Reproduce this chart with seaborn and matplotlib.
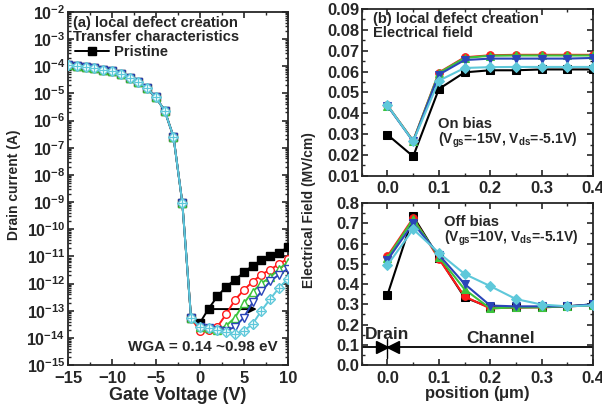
"""Transfer characteristics and electrical field for local defect creation."""

import matplotlib

matplotlib.use("Agg")
import matplotlib.pyplot as plt
import numpy as np
import pandas as pd
import seaborn as sns
from matplotlib.lines import Line2D
from matplotlib.ticker import FormatStrFormatter, LogLocator, MultipleLocator, NullFormatter

sns.set_theme(style="ticks")
plt.rcParams.update({
    "font.family": ["Liberation Sans", "DejaVu Sans"],
    "font.weight": "bold",
    "axes.labelweight": "bold",
    "mathtext.fontset": "custom",
    "mathtext.rm": "Liberation Sans:bold",
    "mathtext.it": "Liberation Sans:bold",
    "mathtext.bf": "Liberation Sans:bold",
    "mathtext.default": "rm",
    "xtick.direction": "in",
    "ytick.direction": "in",
    "xtick.top": True,
    "ytick.right": True,
    "axes.linewidth": 1.3,
    "xtick.major.width": 1.2,
    "ytick.major.width": 1.2,
    "xtick.minor.width": 1.0,
    "ytick.minor.width": 1.0,
    "xtick.major.size": 4,
    "ytick.major.size": 4,
    "xtick.minor.size": 2.5,
    "ytick.minor.size": 2.5,
    "xtick.labelsize": 12,
    "ytick.labelsize": 12,
})

# ---- (a) transfer characteristics --------------------------------------
gate_voltage = list(range(-15, 11))
# log10(I_d) shared by all curves from -15 V to -1 V
on_state_log = [-3.94, -3.98, -4.03, -4.07, -4.13, -4.19, -4.29, -4.42,
                -4.57, -4.82, -5.15, -5.64, -6.60, -9.02, -13.27]
# log10(I_d) from 0 V to 10 V for each case
off_black = [-13.45, -12.92, -12.47, -12.11, -11.86, -11.59, -11.34, -11.15, -10.97, -10.87, -10.66]
off_red = [-13.74, -13.72, -13.59, -13.12, -12.60, -12.24, -11.93, -11.67, -11.49, -11.28, -11.09]
off_green = [-13.60, -13.65, -13.70, -13.55, -13.25, -12.73, -12.30, -11.99, -11.77, -11.46, -11.22]
off_blue = [-13.60, -13.65, -13.70, -13.74, -13.59, -13.25, -12.69, -12.29, -11.92, -11.67, -11.46]
off_cyan = [-13.60, -13.65, -13.70, -13.79, -13.86, -13.74, -13.49, -13.00, -12.57, -12.16, -11.83]

# ---- (b) electrical field ----------------------------------------------
position = [0.0, 0.05, 0.1, 0.15, 0.2, 0.25, 0.3, 0.35, 0.4]
on_black = [0.0297, 0.0193, 0.0516, 0.0596, 0.0606, 0.0606, 0.0610, 0.0610, 0.0610]
on_red = [0.0438, 0.0268, 0.0595, 0.0668, 0.0678, 0.0680, 0.0680, 0.0680, 0.0680]
on_green = [0.0437, 0.0267, 0.0593, 0.0665, 0.0676, 0.0677, 0.0677, 0.0677, 0.0677]
on_blue = [0.0436, 0.0265, 0.0585, 0.0655, 0.0662, 0.0662, 0.0662, 0.0662, 0.0665]
on_cyan = [0.0438, 0.0265, 0.0556, 0.0617, 0.0621, 0.0622, 0.0622, 0.0622, 0.0622]
off_field_black = [0.347, 0.735, 0.530, 0.334, 0.285, 0.285, 0.287, 0.290, 0.300]
off_field_red = [0.538, 0.726, 0.525, 0.339, 0.280, 0.285, 0.285, 0.290, 0.295]
off_field_green = [0.530, 0.720, 0.535, 0.374, 0.280, 0.285, 0.285, 0.290, 0.295]
off_field_blue = [0.519, 0.700, 0.545, 0.401, 0.294, 0.290, 0.290, 0.290, 0.300]
off_field_cyan = [0.494, 0.671, 0.554, 0.450, 0.390, 0.326, 0.299, 0.290, 0.295]

COLORS = ["black", "#ff1a1a", "#3cc43c", "#2a45b8", "#5ec8da"]
MARKERS = ["s", "o", "^", "v", "D"]

fig = plt.figure(figsize=(6.02, 4.07), dpi=100)
ax_a = fig.add_axes([0.113, 0.103, 0.365, 0.868])
ax_on = fig.add_axes([0.601, 0.568, 0.384, 0.410])
ax_off = fig.add_axes([0.601, 0.103, 0.384, 0.398])

# ---- panel (a) -----------------------------------------------------------
tails = [off_black, off_red, off_green, off_blue, off_cyan]
for i, (tail, color, marker) in enumerate(zip(tails, COLORS, MARKERS)):
    df = pd.DataFrame({"vg": gate_voltage,
                       "id": 10.0 ** np.array(on_state_log + tail)})
    face = color if i == 0 else "white"
    sns.lineplot(data=df, x="vg", y="id", ax=ax_a, color=color, lw=1.4,
                 marker=marker, ms=5.5, mfc=face, mec=color, mew=1.0, zorder=3 + i)
    if i == 4:
        sns.lineplot(data=df, x="vg", y="id", ax=ax_a, color=color, lw=0,
                     marker="+", ms=5.5, mec=color, mew=0.9, zorder=3 + i)

ax_a.set_yscale("log")
ax_a.set_xlim(-15, 10)
ax_a.set_ylim(1e-15, 1e-2)
ax_a.xaxis.set_major_locator(MultipleLocator(5))
ax_a.xaxis.set_minor_locator(MultipleLocator(2.5))
ax_a.yaxis.set_major_locator(LogLocator(base=10, numticks=20))
ax_a.yaxis.set_minor_locator(LogLocator(base=10, subs=np.arange(2, 10), numticks=20))
ax_a.yaxis.set_minor_formatter(NullFormatter())
ax_a.tick_params(axis="y", labelsize=11.5)
ax_a.set_xlabel("Gate Voltage (V)", fontsize=13, labelpad=1)
ax_a.set_ylabel("")
fig.text(0.024, 0.545, "Drain current (A)", rotation=90, ha="center", va="center",
         fontsize=10, fontweight="bold")

ax_a.text(0.023, 0.969, "(a) local defect creation", transform=ax_a.transAxes,
          fontsize=10.6, fontweight="bold", va="center")
ax_a.text(0.023, 0.929, "Transfer characteristics", transform=ax_a.transAxes,
          fontsize=10.6, fontweight="bold", va="center")
handle = Line2D([], [], color="black", marker="s", ms=5.5, lw=1.4)
ax_a.legend([handle], ["Pristine"], loc="center left", bbox_to_anchor=(-0.03, 0.885),
            frameon=False, handlelength=2.3, handletextpad=0.35,
            prop={"weight": "bold", "size": 10.6})
ax_a.annotate("", xy=(6.8, 1.15e-13), xytext=(1.0, 1.15e-13),
              arrowprops=dict(arrowstyle="-|>", color="black", lw=1.4,
                              mutation_scale=12))
ax_a.text(0.614, 0.052, "WGA = 0.14 ~0.98 eV", transform=ax_a.transAxes,
          ha="center", va="center", fontsize=11, fontweight="bold")


# ---- panels (b) ----------------------------------------------------------
def plot_field(ax, series):
    for i, (vals, color, marker) in enumerate(zip(series, COLORS, MARKERS)):
        df = pd.DataFrame({"pos": position, "field": vals})
        sns.lineplot(data=df, x="pos", y="field", ax=ax, color=color, lw=1.5,
                     marker=marker, ms=5.5, mfc=color, mec=color, zorder=3 + i)
    ax.set_xlim(-0.05, 0.4)
    ax.xaxis.set_major_locator(MultipleLocator(0.1))
    ax.xaxis.set_minor_locator(MultipleLocator(0.05))
    ax.xaxis.set_major_formatter(FormatStrFormatter("%.1f"))
    ax.set_xlabel("")
    ax.set_ylabel("")


plot_field(ax_on, [on_black, on_red, on_green, on_blue, on_cyan])
ax_on.set_ylim(0.01, 0.09)
ax_on.yaxis.set_major_locator(MultipleLocator(0.01))
ax_on.yaxis.set_minor_locator(MultipleLocator(0.005))
ax_on.yaxis.set_major_formatter(FormatStrFormatter("%.2f"))
ax_on.text(0.048, 0.94, "(b) local defect creation", transform=ax_on.transAxes,
           fontsize=10.6, fontweight="bold", va="center")
ax_on.text(0.048, 0.856, "Electrical field", transform=ax_on.transAxes,
           fontsize=10.6, fontweight="bold", va="center")
ax_on.text(0.329, 0.31, "On bias", transform=ax_on.transAxes,
           fontsize=10.6, fontweight="bold", va="center")
ax_on.text(0.329, 0.212, r"(V$_{\mathregular{gs}}$=-15V, V$_{\mathregular{ds}}$=-5.1V)",
           transform=ax_on.transAxes, fontsize=10, fontweight="bold", va="center")

plot_field(ax_off, [off_field_black, off_field_red, off_field_green,
                    off_field_blue, off_field_cyan])
ax_off.set_ylim(0.0, 0.8)
ax_off.yaxis.set_major_locator(MultipleLocator(0.1))
ax_off.yaxis.set_minor_locator(MultipleLocator(0.05))
ax_off.yaxis.set_major_formatter(FormatStrFormatter("%.1f"))
fig.text(0.793, 0.032, r"position ($\mathregular{\mu}$m)", ha="center", va="center",
         fontsize=12, fontweight="bold")
ax_off.text(0.355, 0.885, "Off bias", transform=ax_off.transAxes,
            fontsize=10.6, fontweight="bold", va="center")
ax_off.text(0.355, 0.785, r"(V$_{\mathregular{gs}}$=10V, V$_{\mathregular{ds}}$=-5.1V)",
            transform=ax_off.transAxes, fontsize=10, fontweight="bold", va="center")

# drain / channel marker
ax_off.axhline(0.09, color="black", lw=1.3, zorder=2)
ax_off.plot([0.0, 0.0], [0.037, 0.127], color="black", lw=1.0, zorder=2)
ax_off.plot([-0.011], [0.09], marker=">", ms=8, color="black", lw=0, zorder=3)
ax_off.plot([0.011], [0.09], marker="<", ms=8, color="black", lw=0, zorder=3)
ax_off.text(0.0, 0.151, "Drain", ha="center", va="center", fontsize=12.5, fontweight="bold")
ax_off.text(0.221, 0.133, "Channel", ha="center", va="center", fontsize=12.5, fontweight="bold")

fig.text(0.514, 0.484, "Electrical Field (MV/cm)", rotation=90, ha="center",
         va="center", fontsize=10, fontweight="bold")

for ax in (ax_a, ax_on, ax_off):
    for lab in ax.get_xticklabels() + ax.get_yticklabels():
        lab.set_fontweight("bold")
    ax.tick_params(which="both", top=True, right=True, direction="in")
    ax.tick_params(axis="both", which="major", pad=2)
    ax.tick_params(axis="x", which="major", pad=4)

fig.savefig("out.png", dpi=100)
